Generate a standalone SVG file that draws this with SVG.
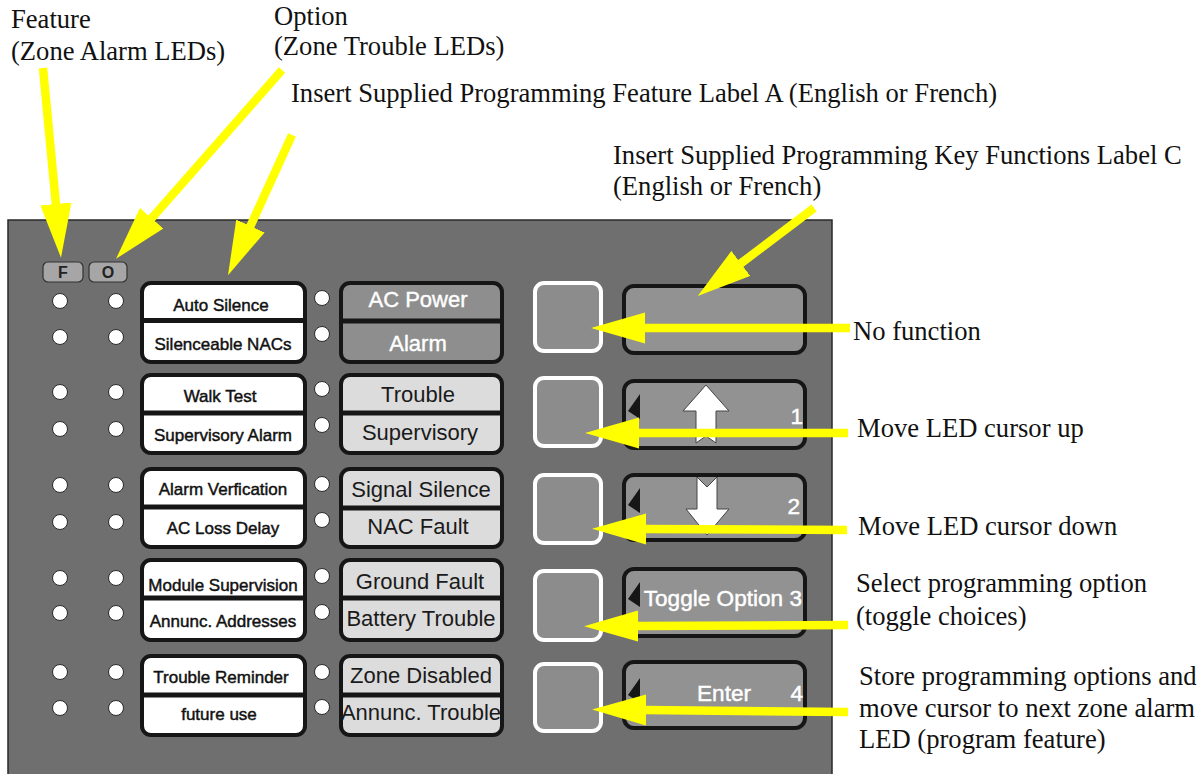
<svg xmlns="http://www.w3.org/2000/svg" width="1203" height="774" viewBox="0 0 1203 774">
<defs>
<style>
.ann{font-family:"Liberation Serif","Times New Roman",serif;font-size:26.6px;fill:#111}
.led{fill:#fff;stroke:#2a2a2a;stroke-width:1}
.fbox{fill:#fff;stroke:#161616;stroke-width:4}
.sbox1{fill:#8e8e8e;stroke:#161616;stroke-width:4}
.sbox{fill:#dcdcdc;stroke:#161616;stroke-width:4}
.div{stroke:#161616;stroke-width:5}
.ftxt{font-family:"Liberation Sans",Arial,sans-serif;font-size:17px;fill:#111;stroke:#111;stroke-width:0.45;text-anchor:middle}
.stxt{font-family:"Liberation Sans",Arial,sans-serif;font-size:22px;fill:#1a1a1a;text-anchor:middle}
.stxtw{font-family:"Liberation Sans",Arial,sans-serif;font-size:22px;fill:#fff;stroke:#fff;stroke-width:0.4;text-anchor:middle}
.btn{fill:#8c8c8c;stroke:#fff;stroke-width:4}
.key{fill:#929292;stroke:#161616;stroke-width:4}
.ktxt{font-family:"Liberation Sans",Arial,sans-serif;font-size:22.6px;fill:#fff;stroke:#fff;stroke-width:0.45}
.tri{fill:#161616}
.warr{fill:#fff;stroke:#444;stroke-width:1}
.fo{fill:#a6a6a6;stroke:#333;stroke-width:1.2}
.fotxt{font-family:"Liberation Sans",Arial,sans-serif;font-size:16px;font-weight:bold;fill:#222;text-anchor:middle}
.ya{fill:none;stroke:#ffff00;stroke-width:8.5;marker-end:url(#ah)}
</style>
<marker id="ah" markerUnits="userSpaceOnUse" markerWidth="54" markerHeight="32" viewBox="0 0 52 30" refX="1" refY="15" orient="auto">
<path d="M0,0 L52,15 L0,30 Z" fill="#ffff00"/>
</marker>
</defs>
<rect width="1203" height="774" fill="#fff"/>

<g id="panel">
<rect x="8" y="220" width="824" height="570" fill="#6f6f6f" stroke="#2a2a2a" stroke-width="1.5"/>
</g>

<g id="fo-labels">
<rect class="fo" x="43" y="262" width="40" height="20" rx="5"/>
<text class="fotxt" x="63" y="278">F</text>
<rect class="fo" x="89" y="262" width="38" height="20" rx="5"/>
<text class="fotxt" x="108" y="278">O</text>
</g>

<g id="leds">
<circle class="led" cx="60" cy="301" r="7.5"/><circle class="led" cx="116" cy="301" r="7.5"/>
<circle class="led" cx="60" cy="337" r="7.5"/><circle class="led" cx="116" cy="337" r="7.5"/>
<circle class="led" cx="60" cy="392" r="7.5"/><circle class="led" cx="116" cy="392" r="7.5"/>
<circle class="led" cx="60" cy="429" r="7.5"/><circle class="led" cx="116" cy="429" r="7.5"/>
<circle class="led" cx="60" cy="485" r="7.5"/><circle class="led" cx="116" cy="485" r="7.5"/>
<circle class="led" cx="60" cy="522" r="7.5"/><circle class="led" cx="116" cy="522" r="7.5"/>
<circle class="led" cx="60" cy="578" r="7.5"/><circle class="led" cx="116" cy="578" r="7.5"/>
<circle class="led" cx="60" cy="613" r="7.5"/><circle class="led" cx="116" cy="613" r="7.5"/>
<circle class="led" cx="60" cy="672" r="7.5"/><circle class="led" cx="116" cy="672" r="7.5"/>
<circle class="led" cx="60" cy="708" r="7.5"/><circle class="led" cx="116" cy="708" r="7.5"/>
<circle class="led" cx="322" cy="298" r="7.5"/><circle class="led" cx="322" cy="334" r="7.5"/>
<circle class="led" cx="322" cy="389" r="7.5"/><circle class="led" cx="322" cy="425" r="7.5"/>
<circle class="led" cx="322" cy="484" r="7.5"/><circle class="led" cx="322" cy="520" r="7.5"/>
<circle class="led" cx="322" cy="576" r="7.5"/><circle class="led" cx="322" cy="612" r="7.5"/>
<circle class="led" cx="322" cy="672" r="7.5"/><circle class="led" cx="322" cy="707" r="7.5"/>
</g>

<g id="feature-1">
<rect class="fbox" x="142" y="283" width="163" height="79" rx="9"/>
<line class="div" x1="142" y1="320.5" x2="305" y2="320.5"/>
<text class="ftxt" x="221" y="311">Auto Silence</text>
<text class="ftxt" x="223" y="350">Silenceable NACs</text>
</g>
<g id="feature-2">
<rect class="fbox" x="142" y="375" width="163" height="78" rx="9"/>
<line class="div" x1="142" y1="413" x2="305" y2="413"/>
<text class="ftxt" x="220" y="402">Walk Test</text>
<text class="ftxt" x="223" y="441">Supervisory Alarm</text>
</g>
<g id="feature-3">
<rect class="fbox" x="142" y="469" width="163" height="78" rx="9"/>
<line class="div" x1="142" y1="507" x2="305" y2="507"/>
<text class="ftxt" x="223" y="495">Alarm Verfication</text>
<text class="ftxt" x="223" y="534">AC Loss Delay</text>
</g>
<g id="feature-4">
<rect class="fbox" x="142" y="560" width="163" height="80" rx="9"/>
<line class="div" x1="142" y1="598" x2="305" y2="598"/>
<text class="ftxt" x="223" y="591">Module Supervision</text>
<text class="ftxt" x="223" y="627">Annunc. Addresses</text>
</g>
<g id="feature-5">
<rect class="fbox" x="142" y="656" width="163" height="79" rx="9"/>
<line class="div" x1="142" y1="695" x2="305" y2="695"/>
<text class="ftxt" x="221" y="683">Trouble Reminder</text>
<text class="ftxt" x="219" y="720">future use</text>
</g>

<g id="status-1">
<rect class="sbox1" x="341" y="283" width="161" height="79" rx="9"/>
<line class="div" x1="341" y1="321" x2="502" y2="321"/>
<text class="stxtw" x="418" y="307">AC Power</text>
<text class="stxtw" x="418" y="351">Alarm</text>
</g>
<g id="status-2">
<rect class="sbox" x="341" y="375" width="161" height="78" rx="9"/>
<line class="div" x1="341" y1="413" x2="502" y2="413"/>
<text class="stxt" x="418" y="402">Trouble</text>
<text class="stxt" x="420" y="440">Supervisory</text>
</g>
<g id="status-3">
<rect class="sbox" x="341" y="469" width="161" height="78" rx="9"/>
<line class="div" x1="341" y1="508" x2="502" y2="508"/>
<text class="stxt" x="421" y="497">Signal Silence</text>
<text class="stxt" x="418" y="534">NAC Fault</text>
</g>
<g id="status-4">
<rect class="sbox" x="341" y="560" width="161" height="80" rx="9"/>
<line class="div" x1="341" y1="598" x2="502" y2="598"/>
<text class="stxt" x="420" y="589">Ground Fault</text>
<text class="stxt" x="421" y="626">Battery Trouble</text>
</g>
<g id="status-5">
<rect class="sbox" x="341" y="656" width="161" height="79" rx="9"/>
<line class="div" x1="341" y1="695" x2="502" y2="695"/>
<text class="stxt" x="421" y="683">Zone Disabled</text>
<text class="stxt" x="421" y="720">Annunc. Trouble</text>
</g>

<g id="button-1"><rect class="btn" x="535" y="283" width="66" height="68" rx="9"/></g>
<g id="button-2"><rect class="btn" x="535" y="378" width="66" height="68" rx="9"/></g>
<g id="button-3"><rect class="btn" x="535" y="475" width="66" height="68" rx="9"/></g>
<g id="button-4"><rect class="btn" x="535" y="571" width="66" height="69" rx="9"/></g>
<g id="button-5"><rect class="btn" x="535" y="664" width="66" height="67" rx="9"/></g>

<g id="key-1"><rect class="key" x="624" y="286" width="181" height="67" rx="10"/></g>
<g id="key-2">
<rect class="key" x="624" y="381" width="181" height="67" rx="10"/>
<polygon class="tri" points="640,394 640,419 628,411"/>
<path class="warr" d="M706,385 L729,411 L716,411 L716,443 L706,436 L696,443 L696,411 L683,411 Z"/>
<text class="ktxt" x="803" y="424" text-anchor="end">1</text>
</g>
<g id="key-3">
<rect class="key" x="624" y="475" width="181" height="65" rx="10"/>
<polygon class="tri" points="640,488 640,513 628,505"/>
<path class="warr" d="M697,477 L707,487 L717,477 L717,509 L729,509 L707,535 L686,509 L697,509 Z"/>
<text class="ktxt" x="800" y="514" text-anchor="end">2</text>
</g>
<g id="key-4">
<rect class="key" x="624" y="569" width="181" height="67" rx="10"/>
<polygon class="tri" points="640,582 640,607 628,599"/>
<text class="ktxt" x="802" y="606" text-anchor="end">Toggle Option 3</text>
</g>
<g id="key-5">
<rect class="key" x="624" y="662" width="181" height="66" rx="10"/>
<polygon class="tri" points="640,678 640,703 628,695"/>
<text class="ktxt" x="697" y="701">Enter</text>
<text class="ktxt" x="803" y="701" text-anchor="end">4</text>
</g>

<g id="annotations">
<text class="ann" x="11" y="28">Feature</text>
<text class="ann" x="11" y="60">(Zone Alarm LEDs)</text>
<text class="ann" x="274" y="25">Option</text>
<text class="ann" x="274" y="55">(Zone Trouble LEDs)</text>
<text class="ann" x="291" y="102">Insert Supplied Programming Feature Label A (English or French)</text>
<text class="ann" x="613" y="164">Insert Supplied Programming Key Functions Label C</text>
<text class="ann" x="613" y="195">(English or French)</text>
<text class="ann" x="853" y="340">No function</text>
<text class="ann" x="857" y="437">Move LED cursor up</text>
<text class="ann" x="858" y="535">Move LED cursor down</text>
<text class="ann" x="856" y="592">Select programming option</text>
<text class="ann" x="856" y="625">(toggle choices)</text>
<text class="ann" x="859" y="685">Store programming options and</text>
<text class="ann" x="859" y="717">move cursor to next zone alarm</text>
<text class="ann" x="859" y="748">LED (program feature)</text>
</g>

<g id="connectors">
<path class="ya" d="M43,68 L56,205"/>
<path class="ya" d="M282,70 L151,219"/>
<path class="ya" d="M292,135 L250,227"/>
<path class="ya" d="M814,208 L740,264"/>
<path class="ya" d="M850,328 L644,328"/>
<path class="ya" d="M848,433 L638,433"/>
<path class="ya" d="M847,530 L645,529"/>
<path class="ya" d="M848,625 L637,626"/>
<path class="ya" d="M848,712 L645,710"/>
</g>
</svg>
